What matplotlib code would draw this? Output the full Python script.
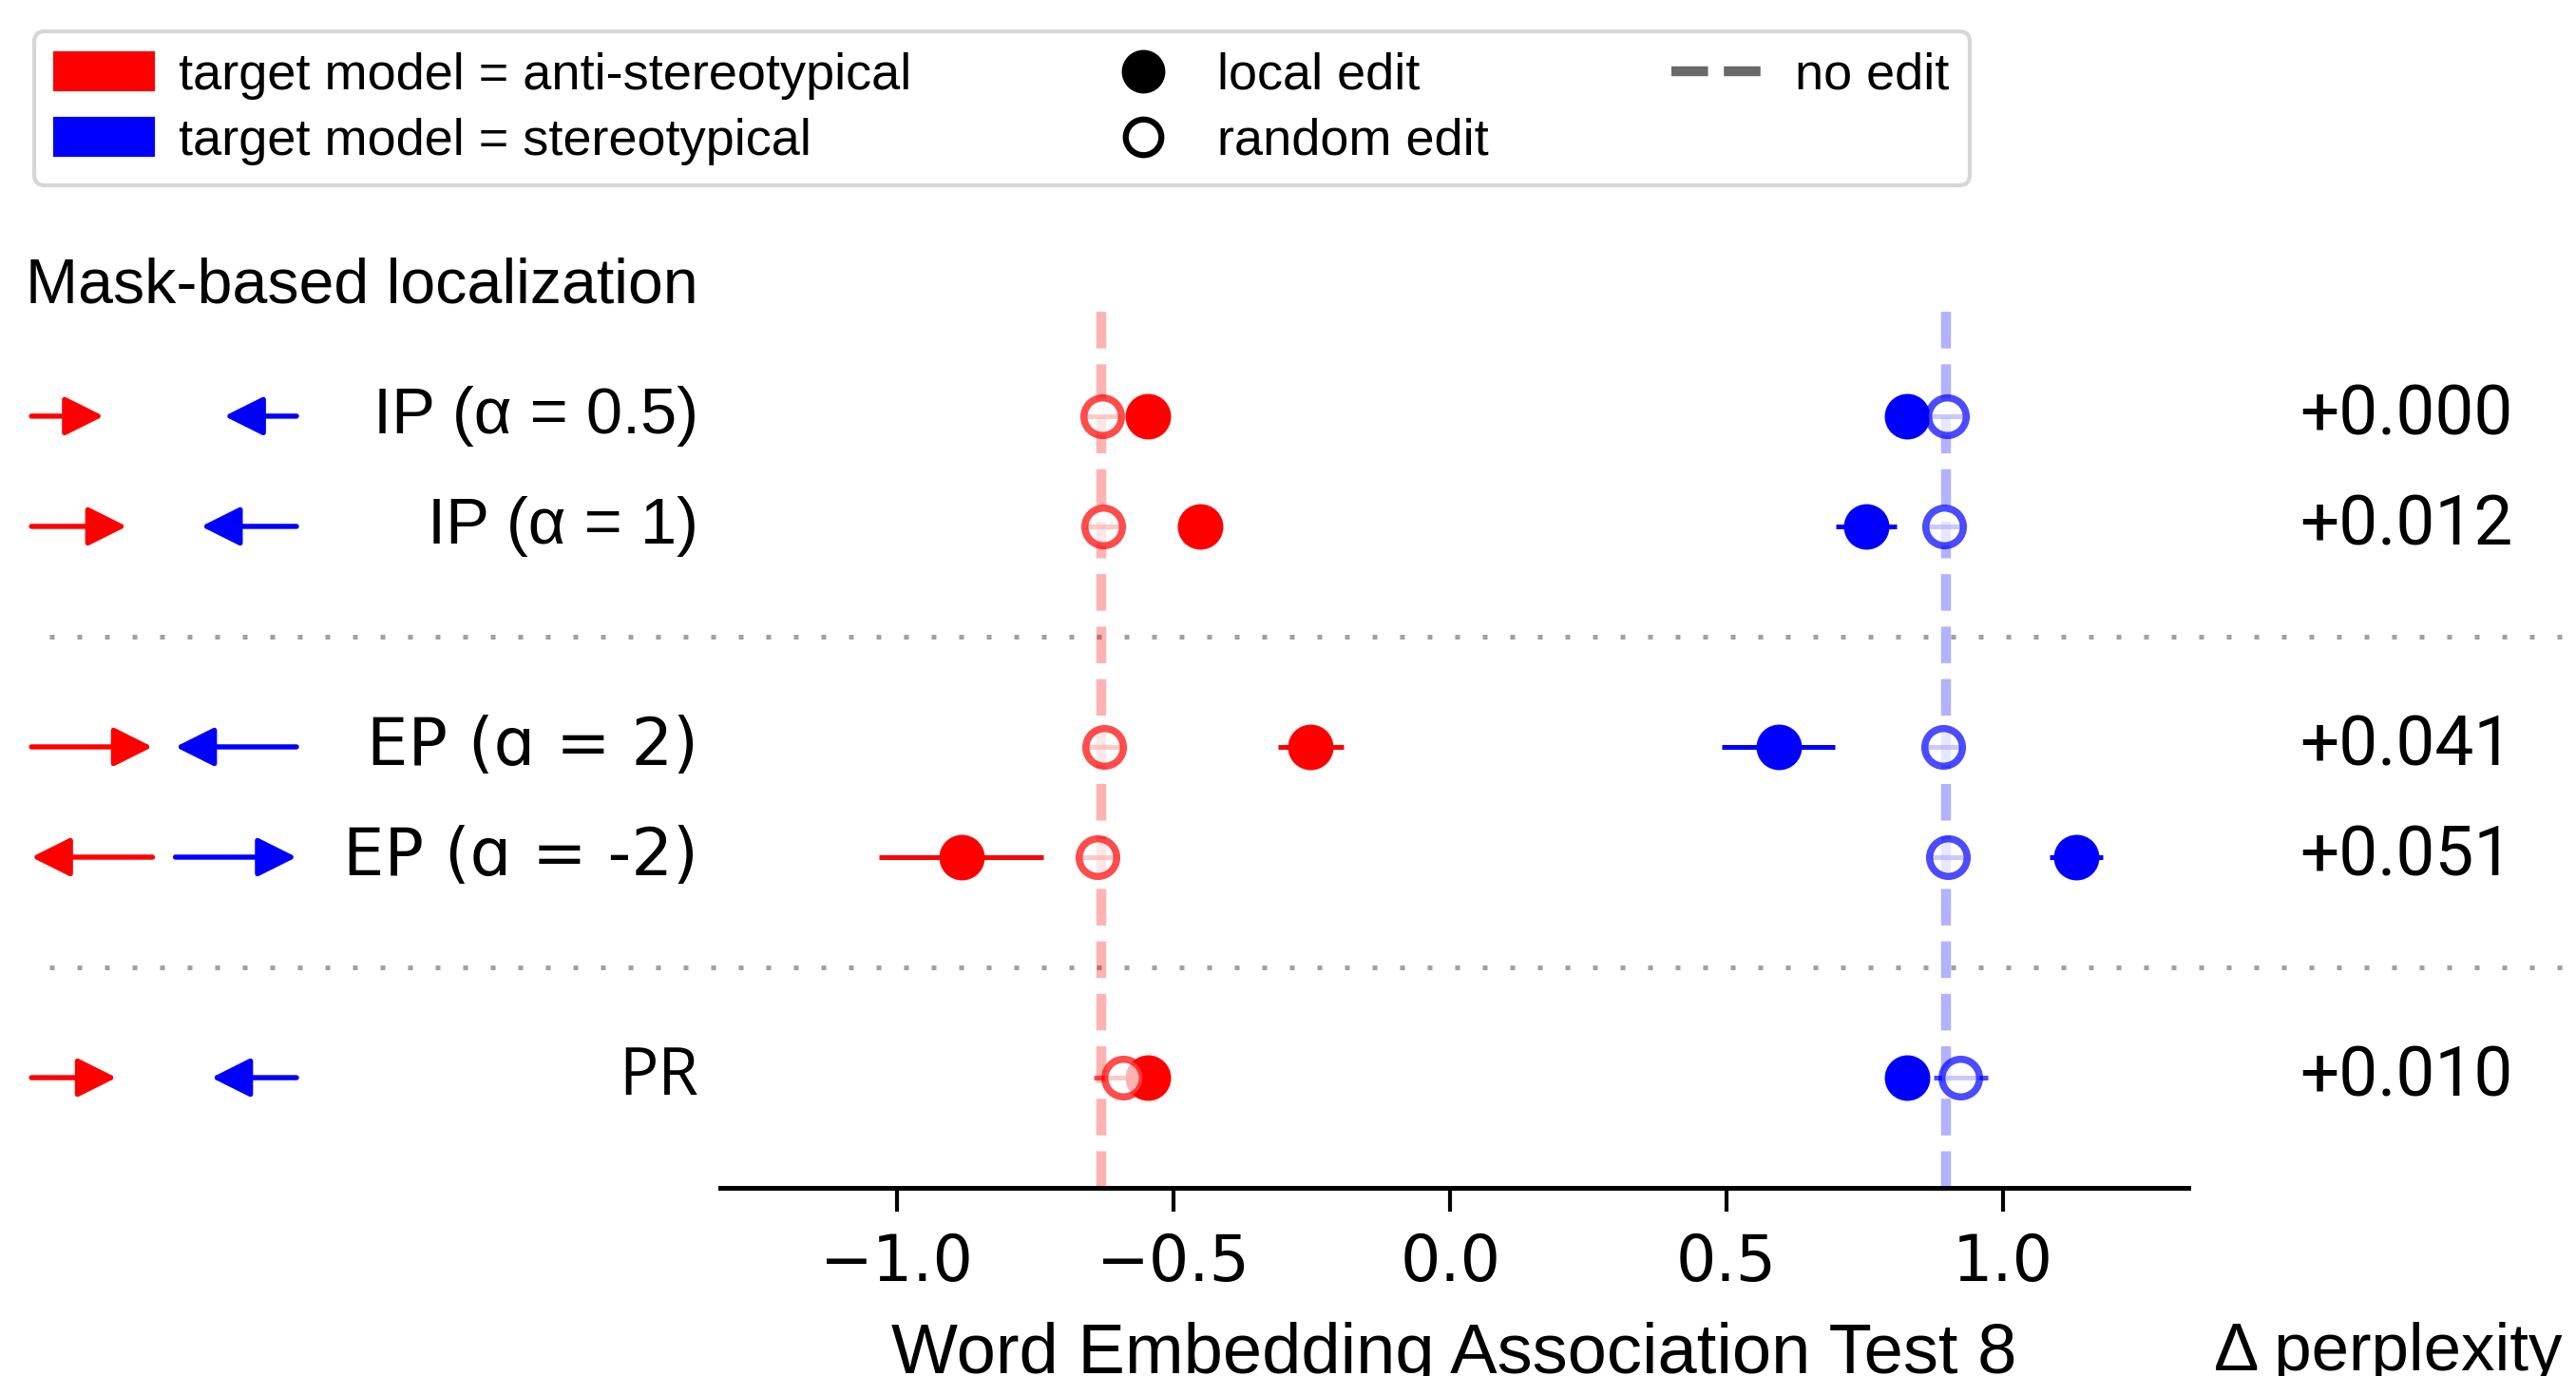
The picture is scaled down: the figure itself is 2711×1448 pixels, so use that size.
import matplotlib.pyplot as plt
from matplotlib.patches import Patch
from matplotlib.lines import Line2D
from matplotlib.transforms import blended_transform_factory

plt.rcParams['font.family'] = ['Liberation Sans', 'DejaVu Sans']

# rows of the chart (top to bottom), separators between the groups
methods = ['IP (α = 0.5)', 'IP (α = 1)', 'EP (ɑ = 2)', 'EP (ɑ = -2)', 'PR']
method_fonts = ['Liberation Sans', 'Liberation Sans', 'DejaVu Sans', 'DejaVu Sans', 'Open Sans']
rows = [0, 1, 3, 4, 6]
separators = [2, 5]
arrow_len = [0.028, 0.037, 0.047, -0.047, 0.033]   # figure fraction, sign = direction
ppl = ['+0.000', '+0.012', '+0.041', '+0.051', '+0.010']

no_edit_anti = -0.631
no_edit_stereo = 0.896

anti_local = [-0.546, -0.453, -0.252, -0.884, -0.546]
anti_local_err = [0.02, 0.02, 0.059, 0.149, 0.02]
anti_random = [-0.629, -0.628, -0.625, -0.637, -0.592]
anti_random_err = [0.03, 0.03, 0.03, 0.03, 0.052]
stereo_local = [0.826, 0.752, 0.594, 1.132, 0.826]
stereo_local_err = [0.02, 0.055, 0.102, 0.048, 0.02]
stereo_random = [0.898, 0.894, 0.892, 0.900, 0.923]
stereo_random_err = [0.03, 0.03, 0.03, 0.03, 0.049]

fig = plt.figure(figsize=(2711 / 300, 1448 / 300), dpi=300)
ax = fig.add_axes([0.2796, 0.1367, 0.5699, 0.641])

ax.axvline(no_edit_anti, color='red', alpha=0.3, lw=2.5, ls='--', zorder=1)
ax.axvline(no_edit_stereo, color='blue', alpha=0.3, lw=2.5, ls='--', zorder=1)

for loc, loc_err, rnd, rnd_err, col in [
        (anti_local, anti_local_err, anti_random, anti_random_err, 'red'),
        (stereo_local, stereo_local_err, stereo_random, stereo_random_err, 'blue')]:
    ax.errorbar(loc, rows, xerr=loc_err, fmt='o', color=col, ms=10.5, mew=1,
                elinewidth=1.2, zorder=3)
    ax.errorbar(rnd, rows, xerr=rnd_err, fmt='o', color=col, mfc='white', ms=9.5,
                mew=1.8, elinewidth=1.2, alpha=0.7, zorder=4)

ax.set_ylim(7, -1)
ax.set_xlim(-1.32, 1.335)
ax.set_yticks([])
for s in ['left', 'top', 'right']:
    ax.spines[s].set_visible(False)
ax.spines['bottom'].set_linewidth(1.2)
ax.set_xticks([-1.0, -0.5, 0.0, 0.5, 1.0])
ax.tick_params(axis='x', labelsize=16, length=6, width=1, pad=5)
for lab in ax.get_xticklabels():
    lab.set_fontfamily('DejaVu Sans')
ax.set_xlabel('Word Embedding Association Test 8', fontsize=17.8, labelpad=7)

# left and right margins share the data y of the axes
trans = blended_transform_factory(fig.transFigure, ax.transData)

ax.text(0.271, -1.18, 'Mask-based localization', transform=trans, ha='right',
        va='center', fontsize=15.9, clip_on=False)

red_x0 = 0.0122
blue_x1 = 0.1151
for y, name, fam, L, p in zip(rows, methods, method_fonts, arrow_len, ppl):
    ax.text(0.271, y, name, transform=trans, ha='right', va='center',
            fontsize=16.5, family=[fam, 'DejaVu Sans'], clip_on=False)
    ax.text(0.934, y, p, transform=trans, ha='center', va='center',
            fontsize=17.5, family='Roboto', clip_on=False)
    if L > 0:
        r_tail, r_tip = red_x0, red_x0 + L
        b_tail, b_tip = blue_x1, blue_x1 - L
    else:
        r_tail, r_tip = red_x0 - L, red_x0
        b_tail, b_tip = blue_x1 + L, blue_x1
    for tail, tip, col in [(r_tail, r_tip, 'red'), (b_tail, b_tip, 'blue')]:
        ax.annotate('', xy=(tip, y), xytext=(tail, y),
                    xycoords=('figure fraction', 'data'),
                    textcoords=('figure fraction', 'data'),
                    arrowprops=dict(arrowstyle='-|>', color=col, lw=1.3,
                                    mutation_scale=21, shrinkA=0, shrinkB=0),
                    annotation_clip=False)

for s in separators:
    ax.plot([0.019, 1.0], [s, s], transform=trans, color='#a0a0a0', lw=1.2,
            ls=(0, (1, 4.8)), clip_on=False, zorder=0)

fig.text(0.8595, 0.004, 'Δ perplexity', fontsize=17, va='baseline')

handles = [
    Patch(color='red', label='target model = anti-stereotypical'),
    Patch(color='blue', label='target model = stereotypical'),
    Line2D([], [], marker='o', color='black', ls='none', ms=10, label='local edit'),
    Line2D([], [], marker='o', color='black', mfc='white', mew=1.5, ls='none', ms=9,
           label='random edit'),
    Line2D([], [], color='dimgray', ls='--', lw=2.5, label='no edit'),
]
leg_top = 1 - 33 / 1448
fig.legend(handles=handles, loc='upper left',
           bbox_to_anchor=(36 / 2711, leg_top - 0.12, 2037 / 2711, 0.12),
           mode='expand', borderaxespad=0, ncol=3, fontsize=13,
           handlelength=1.9, handletextpad=0.5, labelspacing=0.35, frameon=True)

fig.savefig('out.png', dpi=300)
